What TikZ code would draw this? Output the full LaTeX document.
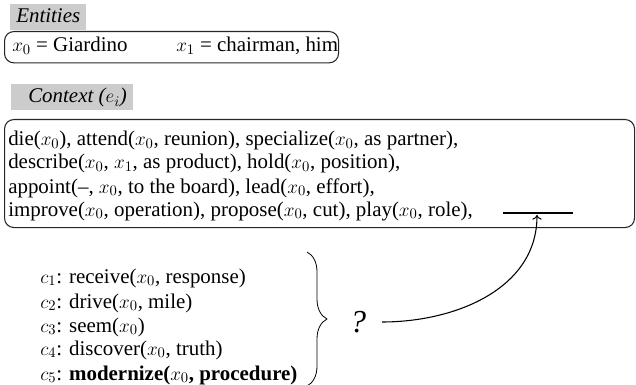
\documentclass[tikz,border=0pt]{standalone}
\usepackage{fontspec}
\setmainfont{Liberation Serif}
\newfontfamily\tms{Liberation Serif}
\usetikzlibrary{decorations.pathreplacing,arrows.meta}
\begin{document}
\begin{tikzpicture}[x=0.75pt,y=-0.75pt,
  txt/.style={anchor=base west,inner sep=0pt,font=\tms\fontsize{15.7}{19}\selectfont},
  ltxt/.style={txt,font=\tms\fontsize{15.7}{19}\selectfont\itshape},
  tag/.style={fill=black!20,inner sep=0pt,anchor=north west},
  frame/.style={draw=black!85,line width=0.8pt,rounded corners=7pt,inner sep=0pt,anchor=north west}]
\useasboundingbox (0,0) rectangle (636,385);

% entity section
\node[tag,minimum width=57pt,minimum height=19pt] (enttag) at (10,4) {};
\node[ltxt] (entlbl) at (16,23) {Entities};
\node[frame,minimum width=250.5pt,minimum height=23.5pt] (entbox) at (4,31) {};
\node[txt] (e0) at (12,52) {$x_0$ = Giardino};
\node[txt] (e1) at (176,52) {$x_1$ = chairman, him};

% context section
\node[tag,minimum width=91.5pt,minimum height=19.5pt] (ctxtag) at (11,84) {};
\node[ltxt] (ctxlbl) at (28,103) {Context ($e_i$)};
\node[frame,minimum width=472.5pt,minimum height=81pt] (ctxbox) at (4,119) {};
\node[txt] (l1) at (8,146) {die($x_0$), attend($x_0$, reunion), specialize($x_0$, as partner),};
\node[txt] (l2) at (8,169) {describe($x_0$, $x_1$, as product), hold($x_0$, position),};
\node[txt] (l3) at (8,193) {appoint(–, $x_0$, to the board), lead($x_0$, effort),};
\node[txt] (l4) at (8,216) {improve($x_0$, operation), propose($x_0$, cut), play($x_0$, role),};
\coordinate (blankL) at (503,213);
\coordinate (blankR) at (573,213);
\coordinate (slot) at (537,215);
\draw[line width=1.4pt] (blankL) -- (blankR);

% candidate list
\node[txt] (c1) at (40,283) {$c_1$: receive($x_0$, response)};
\node[txt] (c2) at (40,308) {$c_2$: drive($x_0$, mile)};
\node[txt] (c3) at (40,332) {$c_3$: seem($x_0$)};
\node[txt] (c4) at (40,355) {$c_4$: discover($x_0$, truth)};
\node[txt] (c5) at (40,380) {$c_5$: \textbf{modernize(}$x_0$\textbf{, procedure)}};
\coordinate (braceT) at (307,252);
\coordinate (braceB) at (307,386);
\draw[line width=0.6pt,decoration={brace,mirror,amplitude=15pt},decorate] (braceB) -- (braceT);

\node[inner sep=0pt,font=\tms\fontsize{24}{28}\selectfont\itshape] (q) at (358,322) {?};
\draw[line width=0.8pt,-{To[length=3.5pt,width=7pt]}] (382,322) to[out=0,in=-90] (slot);
\end{tikzpicture}
\end{document}
